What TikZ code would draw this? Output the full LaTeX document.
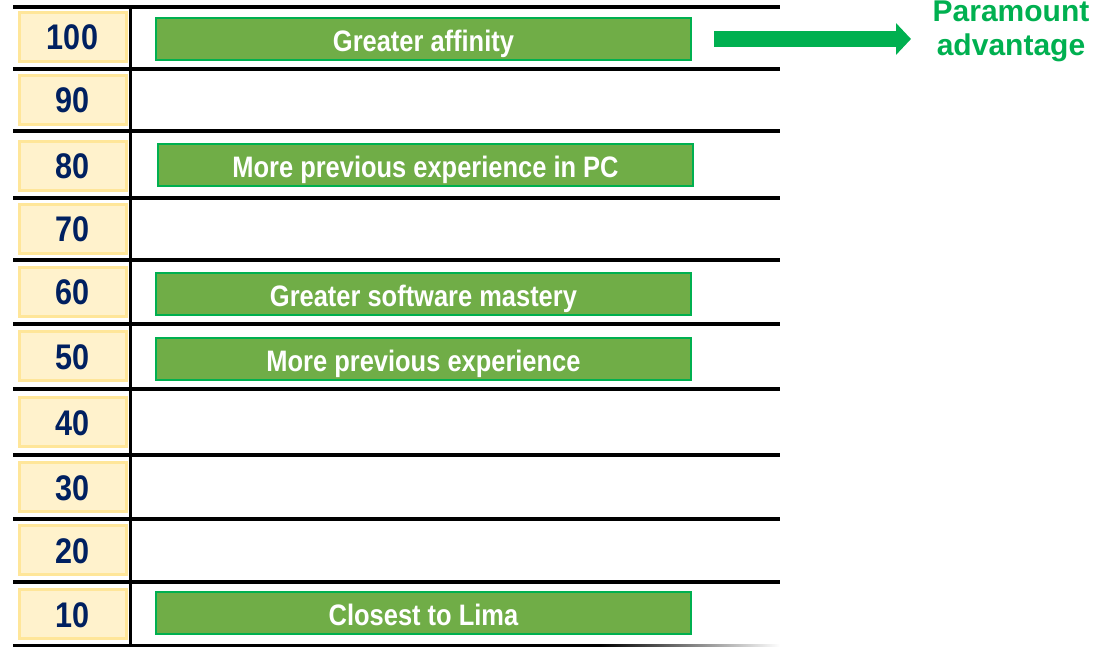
\documentclass[tikz,border=0pt]{standalone}
\usepackage{fontspec}
\setmainfont{Liberation Sans}
\newfontfamily\narrowsans{Liberation Sans}[FakeStretch=0.86]
\usetikzlibrary{arrows.meta}

\definecolor{scorefill}{HTML}{FFF2CC}
\definecolor{scoreedge}{HTML}{FFE699}
\definecolor{scoretext}{HTML}{002060}
\definecolor{barfill}{HTML}{70AD47}
\definecolor{baredge}{HTML}{00B050}

\begin{document}
\begin{tikzpicture}[
        x=0.5pt, y=-0.5pt,
        score/.style={rectangle, draw=scoreedge, fill=scorefill, line width=1.5pt,
            minimum width=53.5pt, minimum height=24.5pt, inner sep=0pt,
            text height=13pt, text depth=0pt,
            text=scoretext, font=\narrowsans\bfseries\fontsize{17.8}{20}\selectfont},
        factor/.style={rectangle, draw=baredge, fill=barfill, line width=1pt,
            minimum width=267.5pt, minimum height=21pt, inner sep=0pt,
            text height=12.5pt, text depth=0pt,
            text=white, font=\narrowsans\bfseries\fontsize{14.8}{17}\selectfont},
        rule/.style={line width=2pt, black},
        bigarrow/.style={draw=baredge, line width=8pt, -{Triangle[length=7.5pt, width=15.5pt]}},
    ]

    \useasboundingbox (0,0) rectangle (1099,647);

    % Row separators
    \draw[rule] (13,7) -- (780,7);
    \draw[rule] (13,69.5) -- (780,69.5);
    \draw[rule] (13,131) -- (780,131);
    \draw[rule] (13,198) -- (780,198);
    \draw[rule] (13,260) -- (780,260);
    \draw[rule] (13,323.5) -- (780,323.5);
    \draw[rule] (13,389) -- (780,389);
    \draw[rule] (13,455) -- (780,455);
    \draw[rule] (13,519) -- (780,519);
    \draw[rule] (13,582) -- (780,582);
    % last rule fades out to the right
    \draw[rule] (13,646) -- (600,646);
    \shade[left color=black, right color=white] (600,644) rectangle (780,648);

    % Score column divider
    \draw[line width=1.5pt] (130,7) -- (130,646);

    % Scores
    \node[score] (S100) at (72.5,37)  {100};
    \node[score] (S90)  at (72.5,100) {90};
    \node[score] (S80)  at (72.5,166) {80};
    \node[score] (S70)  at (72.5,229) {70};
    \node[score] (S60)  at (72.5,292) {60};
    \node[score] (S50)  at (72.5,356) {50};
    \node[score] (S40)  at (72.5,422) {40};
    \node[score] (S30)  at (72.5,487) {30};
    \node[score] (S20)  at (72.5,550) {20};
    \node[score] (S10)  at (72.5,614) {10};

    % Factors
    \node[factor] (F100) at (423.5,39)  {Greater affinity};
    \node[factor] (F80)  at (425.5,165) {More previous experience in PC};
    \node[factor] (F60)  at (423.5,294) {Greater software mastery};
    \node[factor] (F50)  at (423.5,359) {More previous experience};
    \node[factor] (F10)  at (423.5,613) {Closest to Lima};

    % Top factor wins
    \node[font=\bfseries\fontsize{15}{17}\selectfont, text=baredge, align=center]
        (paramount) at (1011,31) {Paramount\\advantage};
    \coordinate (tip) at (911,39);
    \draw[bigarrow, shorten <=11pt] (F100.east) -- (tip);
\end{tikzpicture}
\end{document}
